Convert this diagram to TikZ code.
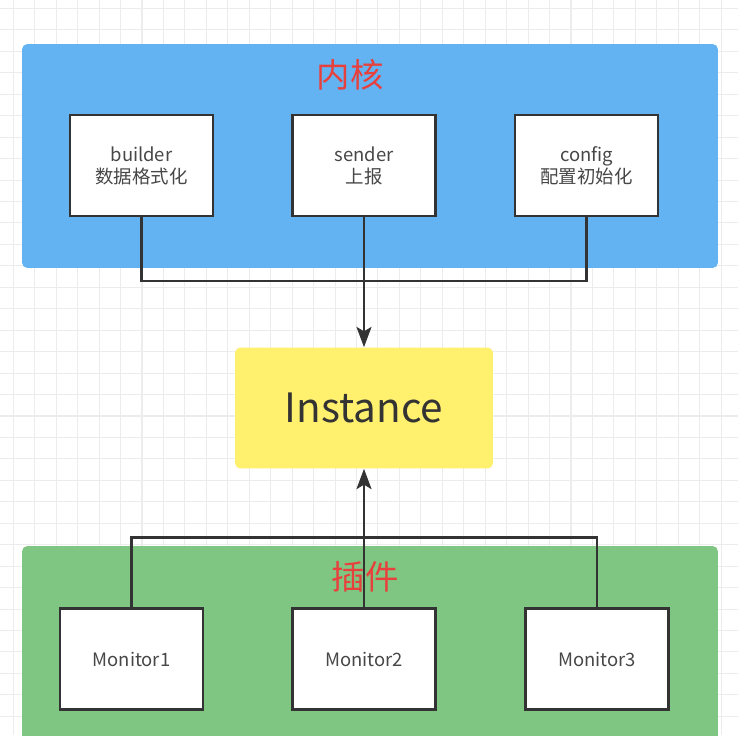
\documentclass[tikz,border=0pt]{standalone}
\usepackage{fontspec}
\setmainfont{Noto Sans CJK SC}
\usepackage{xcolor}
\usetikzlibrary{arrows.meta}

\definecolor{kernelblue}{RGB}{99,179,242}
\definecolor{plugingreen}{RGB}{126,198,130}
\definecolor{instyellow}{RGB}{255,240,110}
\definecolor{titlered}{RGB}{232,64,60}
\definecolor{linegrey}{RGB}{51,51,51}
\definecolor{gridgrey}{RGB}{236,236,236}

\tikzset{
  gridline/.style={gridgrey, line width=0.6pt},
  panel/.style={rounded corners=3pt, minimum width=13.92cm},
  modbox/.style={draw=linegrey, line width=1.6pt, fill=white, minimum width=2.86cm,
    minimum height=2.02cm, align=center, text=black!72, font=\fontsize{10.5}{12.5}\selectfont},
  paneltitle/.style={text=titlered, font=\fontsize{19}{22}\selectfont},
  wire/.style={draw=linegrey, line width=1.5pt},
  arr/.style={wire, -{Stealth[length=11.5pt, width=8.5pt, inset=2.5pt]}},
}

\begin{document}
\begin{tikzpicture}[x=0.02cm, y=-0.02cm]
\useasboundingbox (0,0) rectangle (738,735);
\clip (0,0) rectangle (738,735);
\fill[white] (0,0) rectangle (738,735);

\foreach \i in {0,...,34} \draw[gridline] ({13.3+21.45*\i},0) -- ++(0,735);
\foreach \j in {0,...,34} \draw[gridline] (0,{8.45+21.45*\j}) -- ++(738,0);

\node[panel, fill=kernelblue, minimum height=4.48cm] (kernel) at (370,156) {};
\node[panel, fill=plugingreen, minimum height=4.2cm] (plugin) at (370,651) {};

\node[paneltitle] (kerneltitle) at (350,75) {内核};
\node[paneltitle] (plugintitle) at (365,577) {插件};

\node[modbox] (builder) at (141.5,165.5) {builder\\数据格式化};
\node[modbox] (sender) at (364,165.5) {sender\\上报};
\node[modbox] (config) at (586.5,165.5) {config\\配置初始化};

\node[rounded corners=3pt, fill=instyellow, minimum width=5.16cm, minimum height=2.42cm,
  text=linegrey, font=\fontsize{23}{27}\selectfont] (instance) at (364,408) {Instance};

\node[modbox] (monitorA) at (131.5,659) {Monitor1};
\node[modbox] (monitorB) at (364,659) {Monitor2};
\node[modbox] (monitorC) at (597,659) {Monitor3};

\coordinate (topbar) at (364,281);
\coordinate (lowbar) at (364,537.5);

\draw[wire] (builder.south) |- (topbar) -| (config.south);
\draw[arr] (sender.south) -- (instance.north);
\draw[wire] (monitorA.north) |- (lowbar) -| (monitorC.north);
\draw[arr] (monitorB.north) -- (instance.south);
\end{tikzpicture}
\end{document}
